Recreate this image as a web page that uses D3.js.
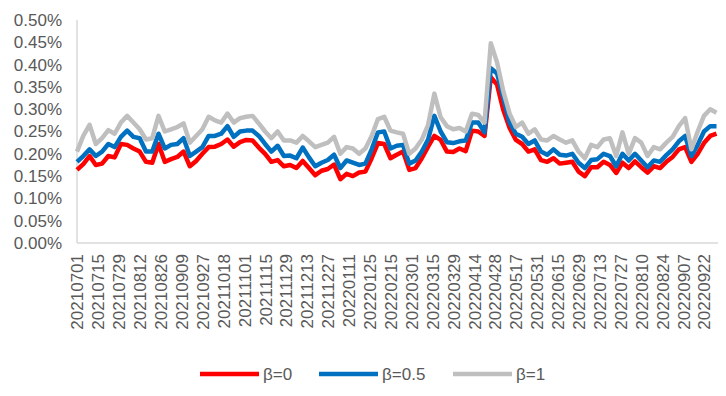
<!DOCTYPE html>
<html>
<head>
<meta charset="utf-8">
<script src="https://cdn.jsdelivr.net/npm/d3@7"></script>
<style>
  body { margin: 0; background: #fff; }
  text { font-family: "Liberation Sans", Arial, sans-serif; fill: #595959; }
</style>
</head>
<body>
<script>
// trading-day index of each sample (every 3rd trading day)
const step = 3;
const tickLabels = ["20210701", "20210715", "20210729", "20210812", "20210826", "20210909",
  "20210927", "20211018", "20211101", "20211115", "20211129", "20211213", "20211227",
  "20220111", "20220125", "20220215", "20220301", "20220315", "20220329", "20220414",
  "20220428", "20220517", "20220531", "20220615", "20220629", "20220713", "20220727",
  "20220810", "20220824", "20220907", "20220922"];
const yTicks = [0, 0.05, 0.1, 0.15, 0.2, 0.25, 0.3, 0.35, 0.4, 0.45, 0.5];

// values in %
const beta0 = [0.164, 0.177, 0.195, 0.175, 0.178, 0.195, 0.192, 0.222, 0.22, 0.212,
  0.205, 0.182, 0.18, 0.222, 0.182, 0.188, 0.193, 0.205, 0.172, 0.184,
  0.2, 0.215, 0.216, 0.222, 0.232, 0.216, 0.226, 0.231, 0.23, 0.214,
  0.2, 0.182, 0.186, 0.172, 0.175, 0.168, 0.184, 0.168, 0.152, 0.162,
  0.166, 0.176, 0.143, 0.155, 0.15, 0.158, 0.16, 0.19, 0.224, 0.222,
  0.19, 0.198, 0.205, 0.164, 0.168, 0.19, 0.216, 0.24, 0.231, 0.205,
  0.204, 0.212, 0.206, 0.252, 0.25, 0.24, 0.372, 0.355, 0.298, 0.258,
  0.231, 0.222, 0.205, 0.21, 0.186, 0.182, 0.19, 0.178, 0.18, 0.182,
  0.16, 0.15, 0.17, 0.17, 0.182, 0.175, 0.157, 0.18, 0.168, 0.183,
  0.17, 0.158, 0.172, 0.168, 0.182, 0.193, 0.21, 0.215, 0.182, 0.2,
  0.224, 0.24, 0.245];
const beta05 = [0.182, 0.195, 0.21, 0.195, 0.205, 0.222, 0.215, 0.238, 0.252, 0.238,
  0.235, 0.205, 0.205, 0.245, 0.212, 0.22, 0.222, 0.235, 0.195, 0.205,
  0.215, 0.24, 0.24, 0.245, 0.262, 0.238, 0.25, 0.252, 0.252, 0.24,
  0.222, 0.205, 0.218, 0.195, 0.196, 0.19, 0.214, 0.192, 0.172, 0.18,
  0.186, 0.198, 0.168, 0.185, 0.18, 0.175, 0.178, 0.21, 0.248, 0.25,
  0.212, 0.218, 0.22, 0.178, 0.185, 0.205, 0.232, 0.285, 0.25, 0.226,
  0.224, 0.228, 0.23, 0.27, 0.27, 0.248, 0.392, 0.38, 0.326, 0.27,
  0.245, 0.238, 0.222, 0.23, 0.205, 0.198, 0.21, 0.198, 0.196, 0.2,
  0.18, 0.168, 0.186, 0.188, 0.2, 0.195, 0.172, 0.2, 0.185, 0.2,
  0.185, 0.17, 0.185, 0.182, 0.197, 0.21, 0.228, 0.24, 0.195, 0.22,
  0.25, 0.262, 0.262];
const beta1 = [0.205, 0.24, 0.265, 0.222, 0.235, 0.253, 0.245, 0.27, 0.285, 0.27,
  0.255, 0.232, 0.235, 0.285, 0.25, 0.255, 0.26, 0.268, 0.225, 0.24,
  0.255, 0.283, 0.275, 0.27, 0.29, 0.27, 0.28, 0.283, 0.285, 0.268,
  0.25, 0.235, 0.25, 0.23, 0.23, 0.225, 0.24, 0.228, 0.215, 0.22,
  0.225, 0.238, 0.2, 0.215, 0.212, 0.2, 0.212, 0.24, 0.278, 0.283,
  0.252, 0.248, 0.245, 0.2, 0.212, 0.232, 0.265, 0.335, 0.282, 0.262,
  0.255, 0.258, 0.25, 0.29, 0.287, 0.27, 0.448, 0.405, 0.34, 0.29,
  0.26, 0.27, 0.245, 0.255, 0.232, 0.23, 0.24, 0.232, 0.225, 0.23,
  0.205, 0.19, 0.22, 0.215, 0.232, 0.235, 0.195, 0.248, 0.2, 0.235,
  0.225, 0.195, 0.215, 0.21, 0.225, 0.238, 0.262, 0.28, 0.21, 0.25,
  0.285, 0.3, 0.292];

const seriesNames = ["β=0", "β=0.5", "β=1"];
const seriesColors = ["#ff0000", "#0070c0", "#bfbfbf"];
const seriesValues = [beta0, beta05, beta1];

const w = 726;
const h = 396;
const plotLeft = 77;
const plotTop = 20;
const plotBottom = 243;
const nDays = 307;

const svg = d3.select("body").append("svg").attr("width", w).attr("height", h);

const xScale = d3.scaleLinear().domain([0, nDays - 1]).range([plotLeft, 716.5]);
const yScale = d3.scaleLinear().domain([0, 0.5]).range([plotBottom, plotTop]);

// y axis labels
const yAxis = d3.axisLeft(yScale)
  .tickValues(yTicks)
  .tickSize(0)
  .tickPadding(15)
  .tickFormat((d) => d.toFixed(2) + "%");
const gy = svg.append("g").attr("transform", "translate(" + plotLeft + ",0)").call(yAxis);
gy.select(".domain").remove();
gy.selectAll("text").style("font-size", "17px").attr("fill", "#595959");

// axis lines
svg.append("line")
  .attr("x1", plotLeft).attr("x2", plotLeft).attr("y1", plotTop).attr("y2", plotBottom)
  .attr("stroke", "#d9d9d9").attr("stroke-width", 1.5);

// x axis
const xAxis = d3.axisBottom(xScale)
  .tickValues(tickLabels.map((d, i) => i * 10))
  .tickSize(0)
  .tickFormat((d) => tickLabels[d / 10]);
const gx = svg.append("g").attr("transform", "translate(0," + plotBottom + ")").call(xAxis);
gx.select(".domain").remove();
gx.selectAll("text")
  .style("font-size", "17px")
  .attr("fill", "#595959")
  .attr("text-anchor", "end")
  .attr("transform", "rotate(-90)")
  .attr("x", -11)
  .attr("y", 0)
  .attr("dy", "0.35em");

svg.append("line")
  .attr("x1", plotLeft).attr("x2", 718).attr("y1", plotBottom).attr("y2", plotBottom)
  .attr("stroke", "#d9d9d9").attr("stroke-width", 1.5);

// lines
const line = d3.line()
  .x((d, i) => xScale(i * step))
  .y((d) => yScale(d));

seriesValues.forEach((vals, s) => {
  svg.append("path")
    .datum(vals)
    .attr("fill", "none")
    .attr("stroke", seriesColors[s])
    .attr("stroke-width", 4.5)
    .attr("stroke-linejoin", "round")
    .attr("d", line);
});

// legend
const legendX = [200, 319, 453];
const legend = svg.append("g");
seriesNames.forEach((name, s) => {
  legend.append("line")
    .attr("x1", legendX[s]).attr("x2", legendX[s] + 59)
    .attr("y1", 374).attr("y2", 374)
    .attr("stroke", seriesColors[s]).attr("stroke-width", 4.5);
  legend.append("text")
    .attr("x", legendX[s] + 63).attr("y", 380)
    .style("font-size", "17px")
    .text(name);
});
</script>
</body>
</html>
